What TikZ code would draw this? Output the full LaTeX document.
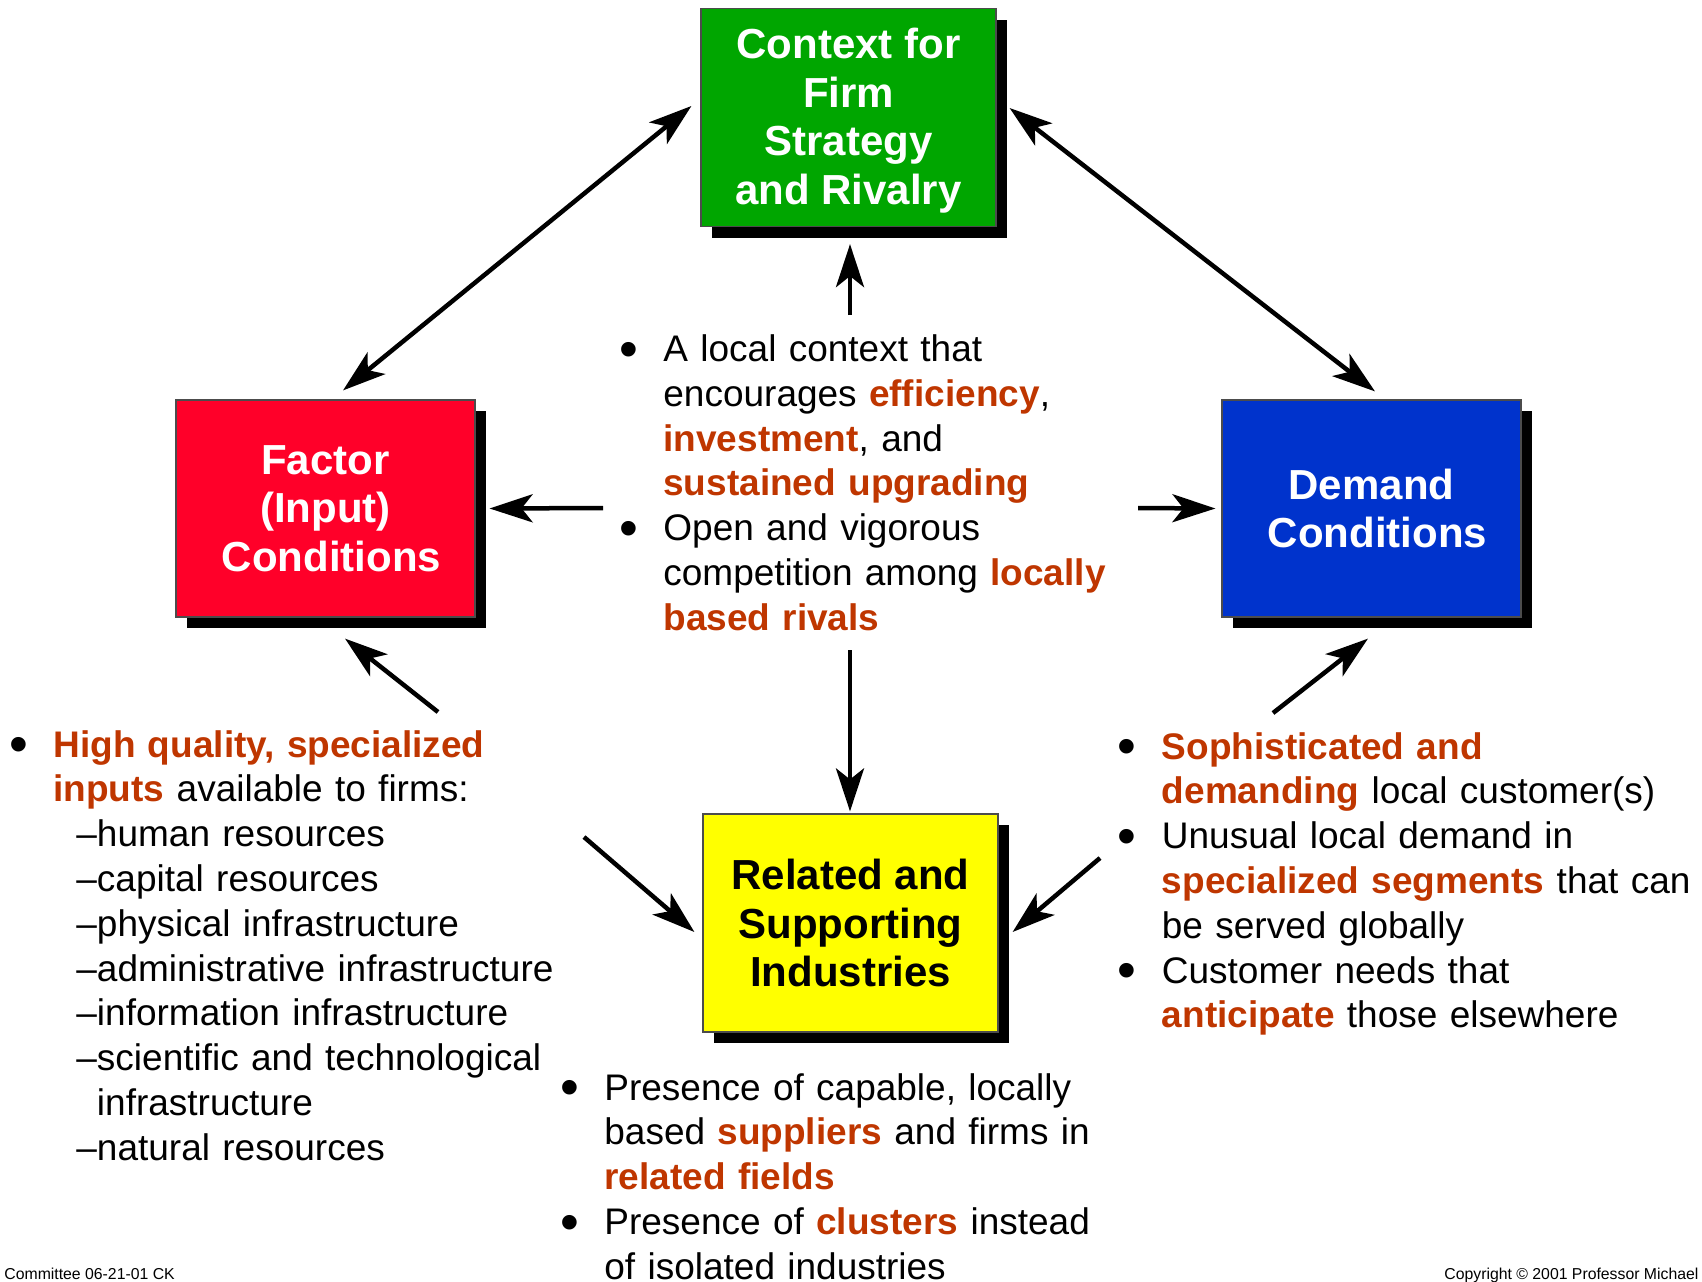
\documentclass[tikz,border=0pt]{standalone}
\usepackage{fontspec}
\setmainfont{Liberation Sans}
\usepackage{xcolor}
\usepackage{graphicx}
\usetikzlibrary{arrows.meta,shadows}
\definecolor{boxgreen}{RGB}{0,166,0}
\definecolor{boxred}{RGB}{255,0,41}
\definecolor{boxblue}{RGB}{0,51,204}
\definecolor{boxyellow}{RGB}{255,255,0}
\definecolor{hilite}{RGB}{191,54,0}
\newcommand{\keyw}[1]{\textbf{\textcolor{hilite}{#1}}}
\newcommand{\bul}{\leavevmode\llap{\raisebox{-2.9pt}{\scalebox{1.45}{\textbullet}}\hspace{12.8pt}}}
\newcommand{\subi}{\hspace*{11.5pt}}
\tikzset{
	cornerbox/.style={draw=black!70,line width=0.6pt,inner sep=0pt,align=center,
		font=\fontsize{21}{24.25}\selectfont\bfseries,
		drop shadow={shadow xshift=5.5pt,shadow yshift=-5.5pt,opacity=1,fill=black}},
	bullets/.style={anchor=base west,inner sep=0pt,text width=330pt,align=left,
		font=\fontsize{18.5}{22.4}\selectfont},
	footer/.style={anchor=base west,inner sep=0pt,font=\fontsize{7.9}{9.5}\selectfont},
	conn/.style={line width=2.25pt},
	>={Stealth[length=21.5pt,width=14pt,inset=5.5pt]}
}
\begin{document}
\begin{tikzpicture}[x=0.5pt,y=-0.5pt]
	\useasboundingbox (0,0) rectangle (1702,1281);
	% the four corners
	\node[cornerbox,fill=boxgreen,text=white,minimum width=147.5pt,minimum height=109pt] (context) at (848.5,117.5) {\rule{0pt}{18.3pt}Context for\\Firm\\Strategy\\and Rivalry};
	\node[cornerbox,fill=boxred,text=white,minimum width=149.5pt,minimum height=108.5pt] (factor) at (325.5,508.5) {Factor\\(Input)\\\hspace*{6pt}Conditions};
	\node[cornerbox,fill=boxblue,text=white,minimum width=149.5pt,minimum height=108.5pt] (demand) at (1371.5,508.5) {Demand\\\hspace*{6pt}Conditions};
	\node[cornerbox,fill=boxyellow,text=black,minimum width=147.5pt,minimum height=109pt] (related) at (850.5,923) {Related and\\Supporting\\Industries};
	% bullet texts
	\node[bullets] (ctxtext) at (663,361.5) {\bul A local context that\\
		encourages \keyw{efficiency},\\
		\keyw{investment}, and\\
		\keyw{sustained upgrading}\\
		\bul Open and vigorous\\
		competition among \keyw{locally}\\
		\keyw{based rivals}};
	\node[bullets] (factortext) at (53,757) {\bul\keyw{High quality, specialized}\\
		\keyw{inputs} available to firms:\\
		\subi–human resources\\
		\subi–capital resources\\
		\subi–physical infrastructure\\
		\subi–administrative infrastructure\\
		\subi–information infrastructure\\
		\subi–scientific and technological\\
		\subi\phantom{–}infrastructure\\
		\subi–natural resources};
	\node[bullets] (demandtext) at (1161.5,759) {\bul\keyw{Sophisticated and}\\
		\keyw{demanding} local customer(s)\\
		\bul Unusual local demand in\\
		\keyw{specialized segments} that can\\
		be served globally\\
		\bul Customer needs that\\
		\keyw{anticipate} those elsewhere};
	\node[bullets] (relatedtext) at (604,1100) {\bul Presence of capable, locally\\
		based \keyw{suppliers} and firms in\\
		\keyw{related fields}\\
		\bul Presence of \keyw{clusters} instead\\
		of isolated industries};
	\node[footer] (leftfoot) at (4,1279) {Committee 06-21-01 CK};
	\node[footer] (rightfoot) at (1444,1279) {Copyright © 2001 Professor Michael};
	% free ends of the arrows
	\coordinate (ctxup) at (850,315);
	\coordinate (ctxleft) at (603,508);
	\coordinate (ctxright) at (1138,508);
	\coordinate (ctxdown) at (850,650);
	\coordinate (facup) at (438,712);
	\coordinate (facdiag) at (584,837);
	\coordinate (demup) at (1273,713);
	\coordinate (demdiag) at (1100,858);
	% arrows
	\draw[conn,<->] ([shift={(-9,-11.5)}]context.west) -- ([shift={(17.5,-9)}]factor.north);
	\draw[conn,<->] ([shift={(13,-9.5)}]context.east) -- ([shift={(3.5,-8)}]demand.north);
	\draw[conn,->] (ctxup) -- ([shift={(1.5,17)}]context.south);
	\draw[conn,->] (ctxleft) -- ([shift={(14,0)}]factor.east);
	\draw[conn,->] (ctxright) -- ([shift={(-6,0)}]demand.west);
	\draw[conn,->] (ctxdown) -- ([shift={(-0.5,-2)}]related.north);
	\draw[conn,->] (facup) -- ([shift={(19.5,21)}]factor.south);
	\draw[conn,->] (demup) -- ([shift={(-3.5,21)}]demand.south);
	\draw[conn,->] (facdiag) -- ([shift={(-8,9)}]related.west);
	\draw[conn,->] (demdiag) -- ([shift={(14,9)}]related.east);
\end{tikzpicture}
\end{document}
